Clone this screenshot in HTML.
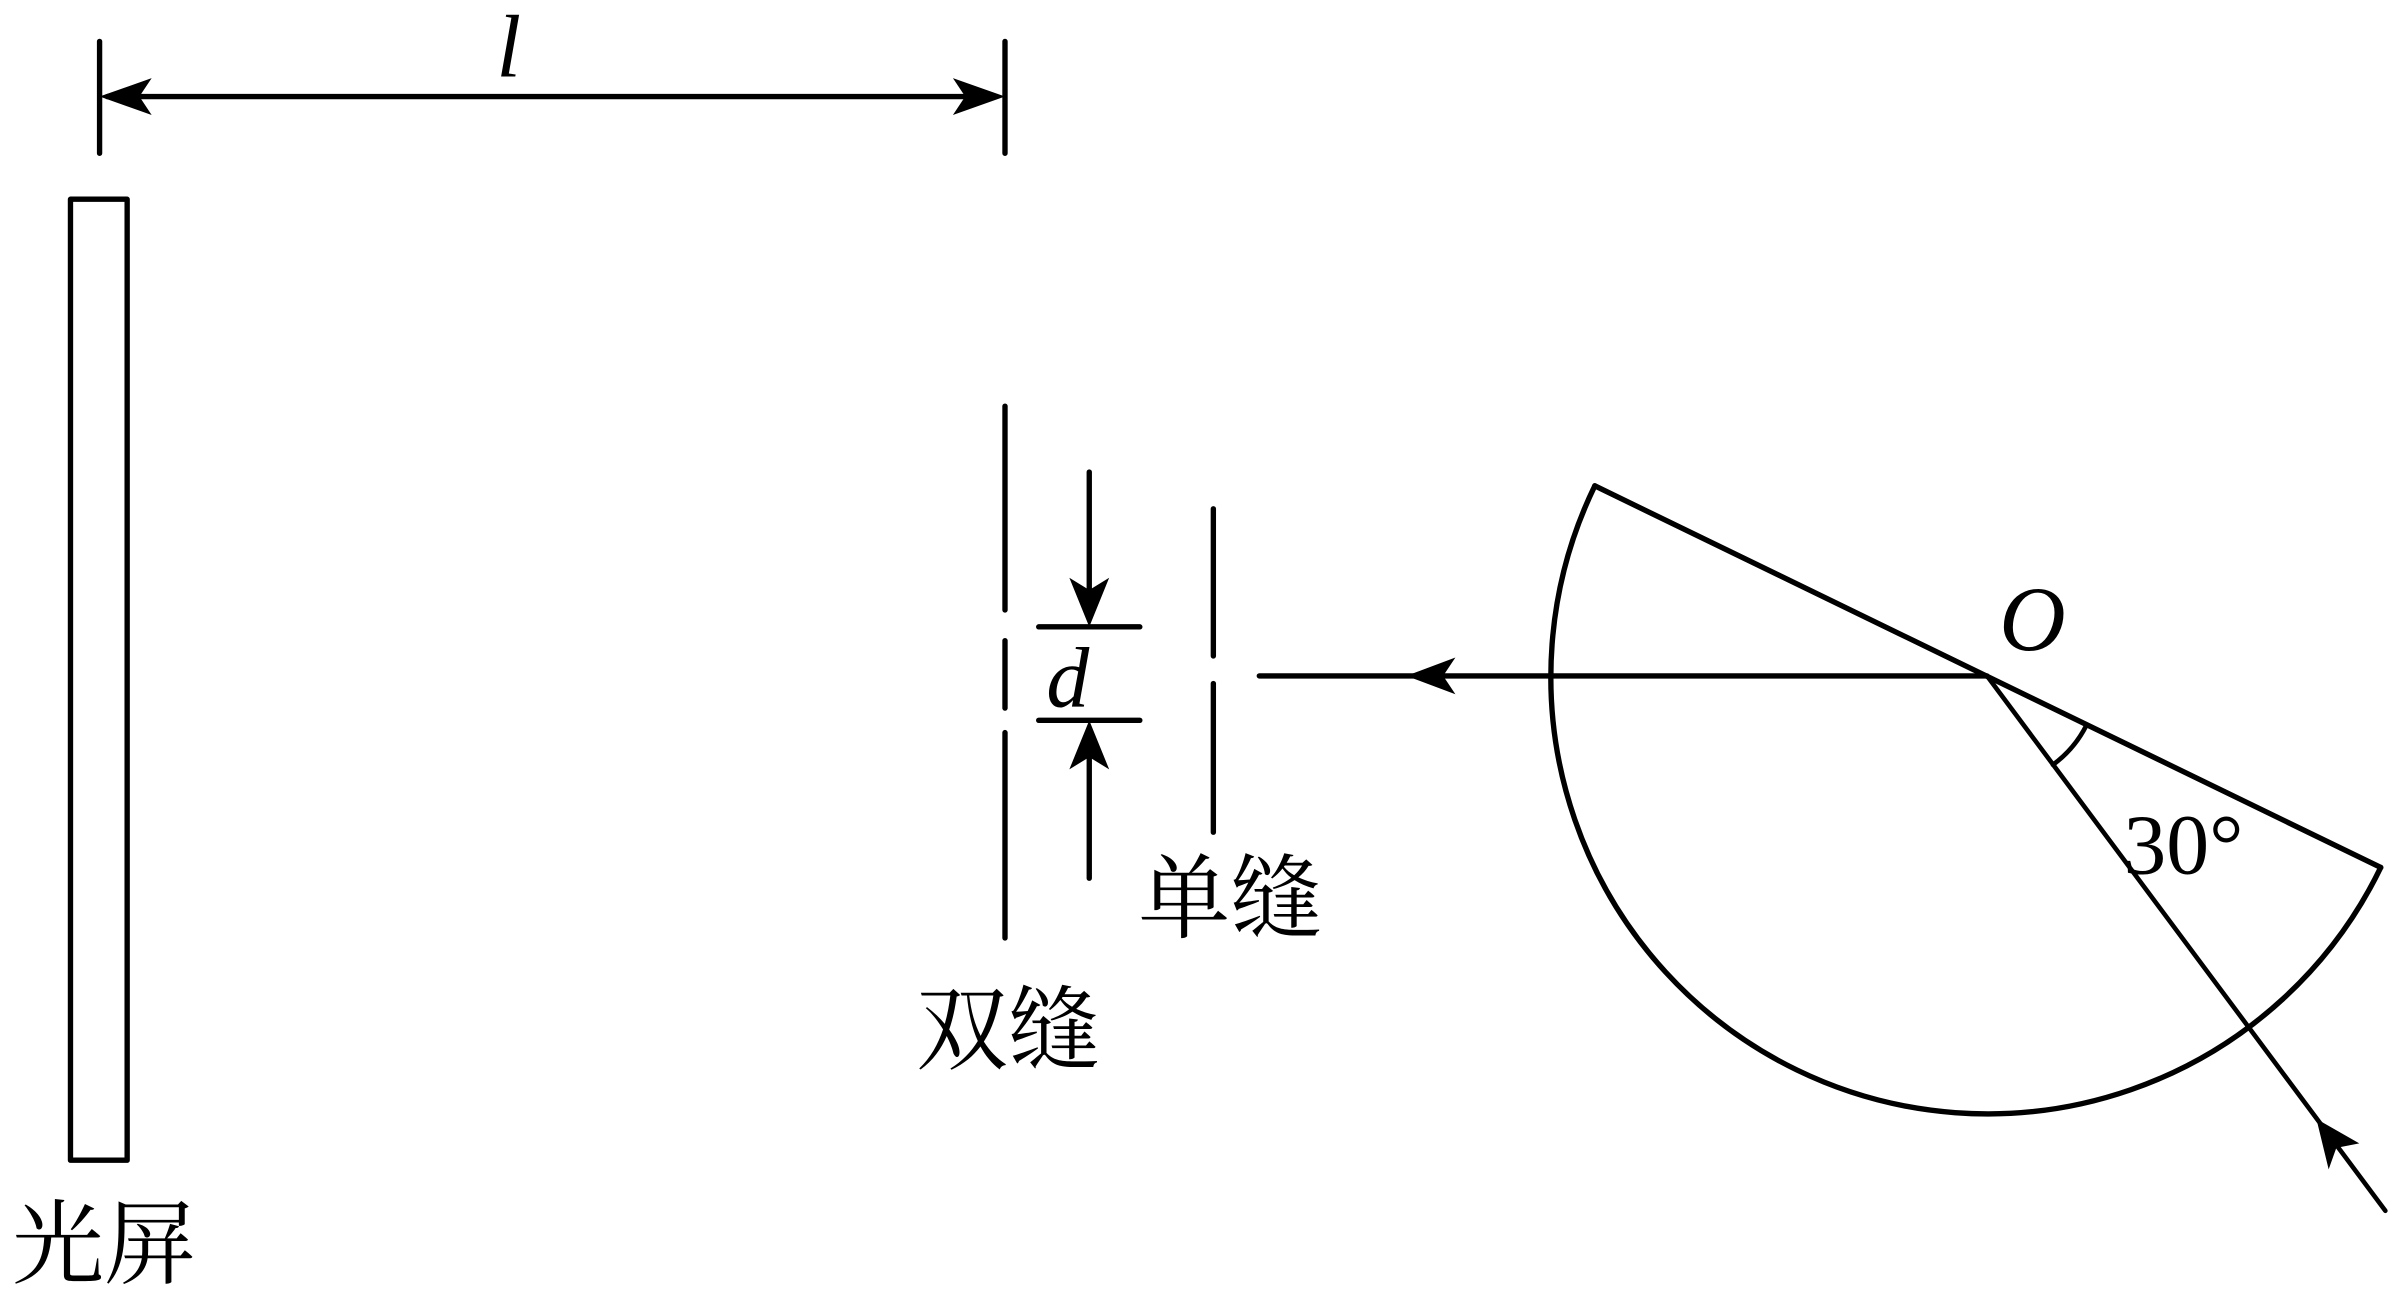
<!DOCTYPE html>
<html><head><meta charset="utf-8"><style>html,body{margin:0;padding:0;background:#fff;overflow:hidden}</style></head>
<body>
<svg width="2393" height="1292" viewBox="0 0 1562 843" preserveAspectRatio="none" xmlns="http://www.w3.org/2000/svg">
<g stroke="#000" stroke-width="3.5" fill="none" stroke-linecap="round" stroke-linejoin="round">
<line x1="65" y1="27" x2="65" y2="100"/>
<line x1="656" y1="27" x2="656" y2="100"/>
<line x1="70" y1="63" x2="650" y2="63"/>
<rect x="46" y="130" width="37" height="627"/>
<line x1="656" y1="265" x2="656" y2="398"/>
<line x1="656" y1="418" x2="656" y2="462"/>
<line x1="656" y1="478" x2="656" y2="612"/>
<line x1="711" y1="308" x2="711" y2="395"/>
<line x1="711" y1="485" x2="711" y2="573"/>
<line x1="678" y1="409" x2="744" y2="409"/>
<line x1="678" y1="470" x2="744" y2="470"/>
<line x1="792" y1="332" x2="792" y2="428"/>
<line x1="792" y1="446" x2="792" y2="543"/>
<line x1="822" y1="441" x2="1297" y2="441"/>
<path d="M1041 317 L1554 566"/>
<path d="M1041 317 A283 283 0 1 0 1554 566"/>
<line x1="1297" y1="441" x2="1557" y2="790" stroke-width="3"/>
<path d="M1340 499 A72 72 0 0 0 1362 473" stroke-width="3"/>
</g>
<g fill="#000">
<path d="M65 63 L99 51 L91 63 L99 75 Z"/>
<path d="M656 63 L622 51 L630 63 L622 75 Z"/>
<path d="M711 409 L698 377 L711 385 L724 377 Z"/>
<path d="M711 470 L698 502 L711 494 L724 502 Z"/>
<path d="M918 441 L950 429 L942 441 L950 453 Z"/>
<path d="M1512 730 L1520 763 L1525 749 L1540 746 Z"/>
</g>
<g font-family="'Liberation Serif','Noto Serif CJK SC',serif" fill="#000">
<text x="324" y="50" font-size="58" font-style="italic">l</text>
<text x="683" y="461" font-size="56" font-style="italic">d</text>
<text x="1305" y="424" font-size="60" font-style="italic">O</text>
<text x="1386" y="570" font-size="56">30°</text>
<text x="743" y="607" font-size="60">单缝</text>
<text x="598" y="693" font-size="60">双缝</text>
<text x="8" y="833" font-size="60">光屏</text>
</g>
</svg>
</body></html>
